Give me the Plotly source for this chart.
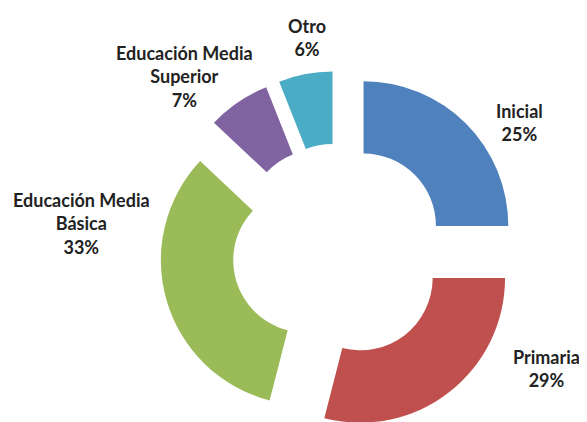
import plotly.graph_objects as go

# data
niveles = ["Inicial", "Primaria", "Educación Media Básica", "Educación Media Superior", "Otro"]
porcentajes = [25, 29, 33, 7, 6]
etiquetas = ["Inicial", "Primaria", "Educación Media<br>Básica", "Educación Media<br>Superior", "Otro"]

colores = ["#4F81BD", "#C0504D", "#9BBB59", "#8064A2", "#4BACC6"]

W, H = 587, 422
OFF = 8  # page body margin pushes the plot 8px right/down

fig = go.Figure(go.Pie(
    labels=niveles,
    values=porcentajes,
    sort=False,
    direction="clockwise",
    hole=0.5,
    pull=[0.24] * len(niveles),
    marker=dict(colors=colores, line=dict(width=0)),
    textinfo="none",
    showlegend=False,
    domain=dict(x=[151 / W, 511 / W], y=[0, 1 - 63 / H]),
))

# label anchors (screen pixel centres)
pos_etiquetas = [(519, 122), (546, 368), (81, 223), (184, 76), (307, 38)]

for txt, val, (px, py) in zip(etiquetas, porcentajes, pos_etiquetas):
    fig.add_annotation(
        x=(px - OFF) / W, y=1 - (py - OFF) / H, xref="paper", yref="paper",
        text=f"<b>{txt}<br>{val}%</b>",
        showarrow=False, align="center",
        xanchor="center", yanchor="middle",
        font=dict(family="Lato, 'Open Sans', sans-serif", size=18, color="#222222"),
    )

fig.update_layout(
    width=W, height=H,
    margin=dict(l=0, r=0, t=0, b=0),
    paper_bgcolor="white",
    plot_bgcolor="white",
)

fig.write_html("out.html")
